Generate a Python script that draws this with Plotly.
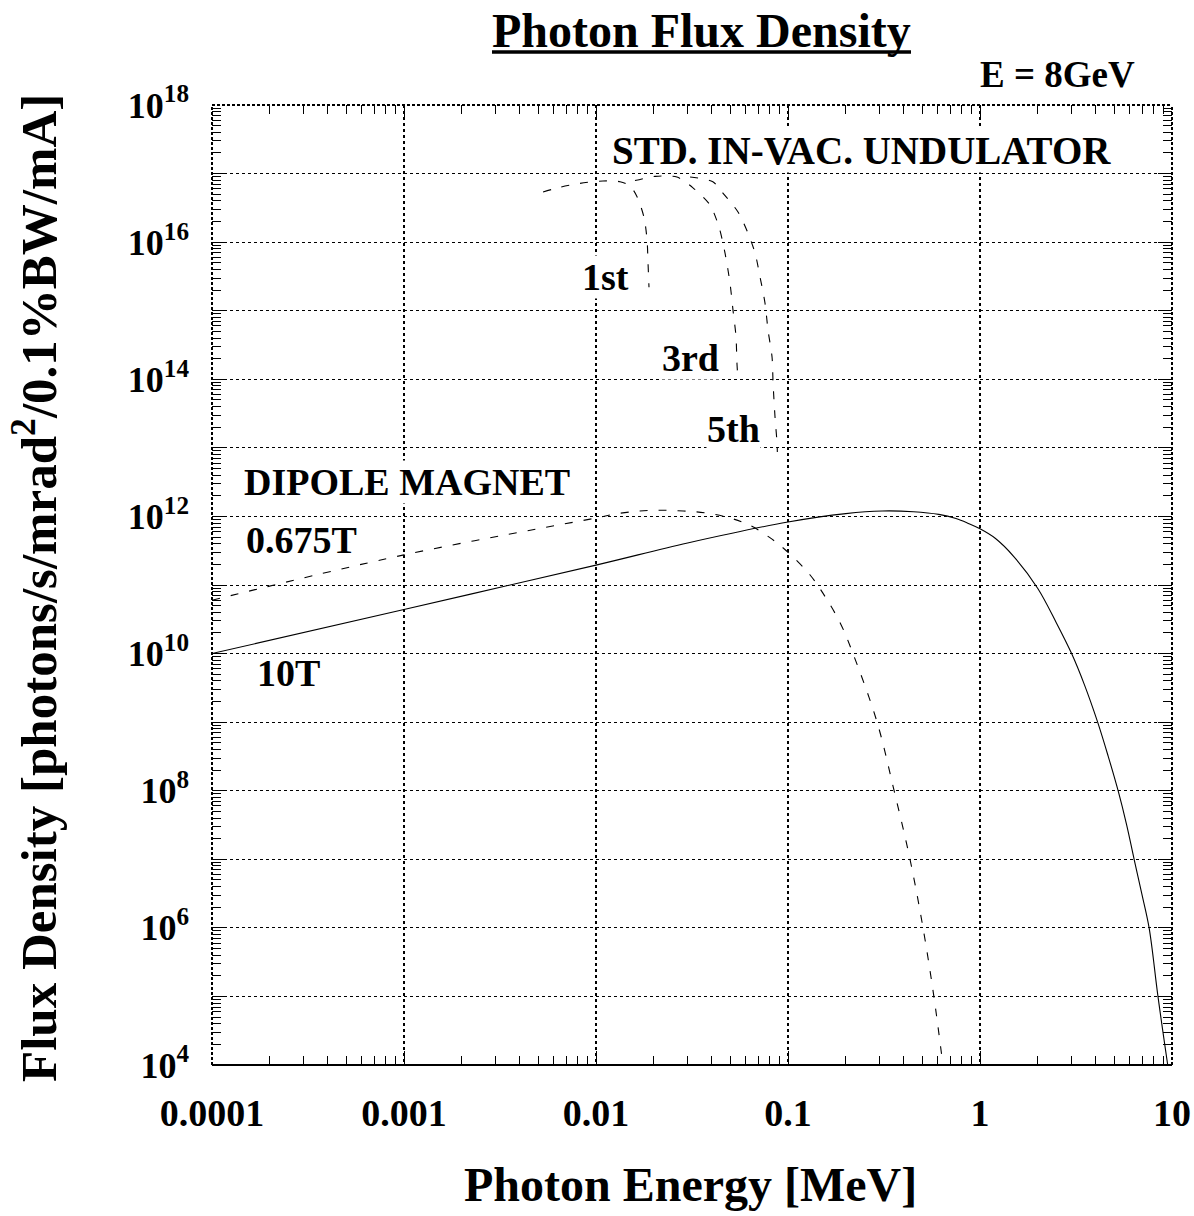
import plotly.graph_objects as go

# ---- data -------------------------------------------------------------
# Bending magnet 10 T (solid)
dip10_energy = [1e-4, 1e-3, 1e-2, 0.03, 0.1, 0.2, 0.31, 0.45, 0.61, 0.75, 0.87,
                1.0, 1.2, 1.5, 2.0, 2.5, 3.0, 3.5, 4.1, 4.65, 5.24, 5.8, 6.35,
                6.95, 7.6, 8.45, 9.5]
dip10_flux = [1.0e10, 4.4e10, 1.95e11, 4.1e11, 8.3e11, 1.10e12, 1.20e12, 1.17e12,
              1.07e12, 9.3e11, 7.9e11, 6.6e11, 4.8e11, 2.6e11, 8.9e10, 2.8e10,
              1.0e10, 3.5e9, 1.0e9, 3.2e8, 1.0e8, 3.2e7, 1.0e7, 3.2e6, 1.0e6,
              1.0e5, 1.0e4]

# Bending magnet 0.675 T (dashed)
dip0675_energy = [1e-4, 1e-3, 1e-2, 0.013, 0.0169, 0.0216, 0.0285, 0.0379, 0.0499,
                  0.0634, 0.0805, 0.1, 0.13, 0.152, 0.187, 0.218, 0.291, 0.357,
                  0.432, 0.505, 0.575, 0.641]
dip0675_flux = [6.0e10, 2.75e11, 9.5e11, 1.1e12, 1.2e12, 1.23e12, 1.2e12, 1.12e12,
                9.5e11, 7.4e11, 4.9e11, 3.0e11, 1.41e11, 7.6e10, 2.8e10, 1.0e10,
                1.0e9, 1.0e8, 1.0e7, 1.0e6, 1.0e5, 1.0e4]

# In-vacuum undulator harmonics (dashed)
und1_energy = [0.0053, 0.00649, 0.00826, 0.01087, 0.01334, 0.01503, 0.01636,
               0.01778, 0.01845, 0.01866, 0.01888]
und1_flux = [5.4e16, 6.3e16, 7.2e16, 7.8e16, 7.6e16, 6.6e16, 4.6e16, 2.3e16,
             1.07e16, 5.0e15, 2.2e15]

und3_energy = [0.01596, 0.0203, 0.0264, 0.032, 0.0392, 0.0437, 0.047, 0.0499,
               0.0517, 0.0536, 0.0542, 0.0549]
und3_flux = [7.9e16, 9.1e16, 8.9e16, 6.2e16, 3.5e16, 1.66e16, 6.9e15, 2.5e15,
             1.02e15, 4.2e14, 1.74e14, 9.8e13]

und5_energy = [0.0309, 0.0406, 0.0458, 0.0549, 0.0619, 0.0674, 0.0715, 0.0759,
               0.0787, 0.0826, 0.0836, 0.0856, 0.0877, 0.088]
und5_flux = [8.9e16, 7.6e16, 5.2e16, 2.75e16, 1.35e16, 6.9e15, 3.1e15, 1.29e15,
             5.2e14, 2.1e14, 8.9e13, 2.8e13, 1.17e13, 8.7e12]

# ---- axis ticks -------------------------------------------------------
x_tick_vals = [1e-4, 1e-3, 1e-2, 1e-1, 1, 10]
x_tick_text = ["0.0001", "0.001", "0.01", "0.1", "1", "10"]
y_decades = list(range(4, 19))
y_tick_vals = [10.0 ** d for d in y_decades]
y_tick_text = [f"10<sup>{d}</sup>" if d % 2 == 0 else "" for d in y_decades]

x_minor = [k * 10.0 ** d for d in range(-4, 1) for k in range(2, 10)]
y_minor = [k * 10.0 ** d for d in range(4, 18) for k in range(2, 10)]

SERIF = "Liberation Serif"
DASH = "8px,11px"

fig = go.Figure()


def add_curve(xs, ys, dash, smooth):
    fig.add_trace(go.Scatter(
        x=xs, y=ys, mode="lines",
        line=dict(color="black", width=1.1, dash=dash, shape="spline", smoothing=smooth),
        showlegend=False, hoverinfo="skip",
    ))


add_curve(dip10_energy, dip10_flux, "solid", 1.0)
add_curve(dip0675_energy, dip0675_flux, DASH, 1.0)
add_curve(und1_energy, und1_flux, DASH, 0.8)
add_curve(und3_energy, und3_flux, DASH, 0.8)
add_curve(und5_energy, und5_flux, DASH, 0.8)

W, H = 1194, 1216
L, R, T, B = 212, 22, 105, 151
PW, PH = W - L - R, H - T - B


def px(xp):
    return (xp - L) / PW


def py(yp):
    return (H - B - yp) / PH


axis_common = dict(
    showline=False, mirror="allticks", ticks="inside", ticklen=14,
    tickcolor="black", tickwidth=1, automargin=False,
    showgrid=True, gridcolor="black", griddash="3px,3px",
    zeroline=False,
)

fig.update_xaxes(
    type="log", range=[-4, 1], tickmode="array",
    tickvals=x_tick_vals, ticktext=x_tick_text, ticklabelstandoff=22,
    gridwidth=1.8,
    tickfont=dict(family=SERIF, size=38, color="black", weight="bold"),
    minor=dict(tickmode="array", tickvals=x_minor, ticks="inside", ticklen=9,
               tickcolor="black", tickwidth=1, showgrid=False),
    **axis_common,
)
fig.update_yaxes(
    type="log", range=[4, 18], tickmode="array",
    tickvals=y_tick_vals, ticktext=y_tick_text, ticklabelstandoff=22,
    gridwidth=1.4,
    tickfont=dict(family=SERIF, size=36, color="black", weight="bold"),
    minor=dict(tickmode="array", tickvals=y_minor, ticks="inside", ticklen=9,
               tickcolor="black", tickwidth=1, showgrid=False),
    **axis_common,
)

# frame: solid bottom, dotted remaining sides
fig.add_shape(type="line", xref="paper", yref="paper", x0=0, x1=1, y0=0, y1=0,
              line=dict(color="black", width=2))
for (x0, y0, x1, y1) in [(0, 0, 0, 1), (0, 1, 1, 1), (1, 0, 1, 1)]:
    fig.add_shape(type="line", xref="paper", yref="paper", x0=x0, y0=y0, x1=x1, y1=y1,
                  line=dict(color="black", width=2, dash="3px,2px"))

# title with underline
fig.add_annotation(text="<b>Photon Flux Density</b>", xref="paper", yref="paper",
                   x=px(701), y=py(31), xanchor="center", yanchor="middle",
                   showarrow=False, font=dict(family=SERIF, size=48, color="black"))
fig.add_shape(type="line", xref="paper", yref="paper", x0=px(492), x1=px(911),
              y0=py(52), y1=py(52), line=dict(color="black", width=3.5))

# axis titles
fig.add_annotation(text="<b>Photon Energy [MeV]</b>", xref="paper", yref="paper",
                   x=px(690), y=py(1184), xanchor="center", yanchor="middle",
                   showarrow=False, font=dict(family=SERIF, size=48, color="black"))
fig.add_annotation(text="<b>Flux Density [photons/s/mrad<sup>2</sup>/0.1%BW/mA]</b>",
                   xref="paper", yref="paper", x=px(35), y=py(588),
                   xanchor="center", yanchor="middle", textangle=-90,
                   showarrow=False, font=dict(family=SERIF, size=51, color="black"))

# in-plot labels
labels = [
    ("E = 8GeV", 1057, 74, False, 37),
    ("STD. IN-VAC. UNDULATOR", 861, 150, True, 39),
    ("1st", 605, 277, True, 38),
    ("3rd", 690, 358, True, 38),
    ("5th", 733, 429, True, 38),
    ("DIPOLE MAGNET", 407, 482, True, 38),
    ("0.675T", 301, 540, False, 38),
    ("10T", 288, 673, False, 38),
]
for text, xp, yp, boxed, size in labels:
    fig.add_annotation(text=f"<b>{text}</b>", xref="paper", yref="paper",
                       x=px(xp), y=py(yp), xanchor="center", yanchor="middle",
                       showarrow=False, bgcolor="white" if boxed else None,
                       borderpad=0,
                       font=dict(family=SERIF, size=size, color="black"))

fig.update_layout(
    width=W, height=H, margin=dict(l=L, r=R, t=T, b=B, pad=0),
    paper_bgcolor="white", plot_bgcolor="white", showlegend=False,
)

fig.write_html("out.html")
